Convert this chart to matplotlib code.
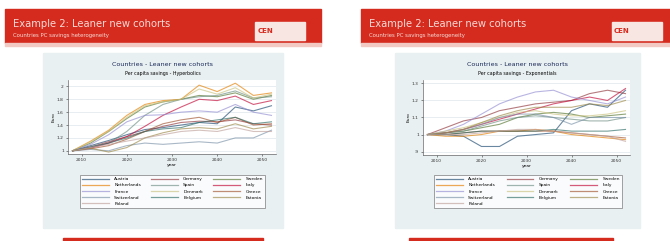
import numpy as np
import matplotlib.pyplot as plt
from matplotlib.patches import Rectangle
from matplotlib.lines import Line2D

W, H = 670, 241

years = [2008, 2012, 2016, 2020, 2024, 2028, 2032, 2036, 2040, 2044, 2048, 2052]
countries = ['Austria', 'Germany', 'Sweden', 'Netherlands', 'Spain', 'Italy', 'France',
             'Denmark', 'Greece', 'Switzerland', 'Belgium', 'Estonia', 'Poland']

# left slide: hyperbolics
hyp = {
    'Austria':     [1.0, 1.08, 1.16, 1.25, 1.33, 1.36, 1.40, 1.44, 1.42, 1.68, 1.62, 1.70],
    'Germany':     [1.0, 1.06, 1.14, 1.22, 1.30, 1.38, 1.44, 1.46, 1.45, 1.48, 1.42, 1.40],
    'Sweden':      [1.0, 1.12, 1.30, 1.50, 1.68, 1.76, 1.80, 1.86, 1.84, 1.90, 1.80, 1.86],
    'Netherlands': [1.0, 1.15, 1.32, 1.55, 1.72, 1.78, 1.80, 2.02, 1.92, 2.05, 1.86, 1.90],
    'Spain':       [1.0, 1.05, 1.12, 1.30, 1.55, 1.72, 1.80, 1.84, 1.86, 1.93, 1.82, 1.84],
    'Italy':       [1.0, 1.04, 1.12, 1.22, 1.38, 1.55, 1.68, 1.80, 1.78, 1.85, 1.72, 1.78],
    'France':      [1.0, 1.10, 1.25, 1.45, 1.55, 1.56, 1.60, 1.62, 1.60, 1.72, 1.60, 1.55],
    'Denmark':     [1.0, 1.14, 1.30, 1.52, 1.70, 1.76, 1.80, 1.96, 1.88, 1.98, 1.82, 1.88],
    'Greece':      [1.0, 1.03, 1.08, 1.18, 1.30, 1.42, 1.48, 1.52, 1.44, 1.52, 1.40, 1.42],
    'Switzerland': [1.0, 1.02, 1.00, 1.08, 1.12, 1.10, 1.12, 1.14, 1.12, 1.20, 1.20, 1.32],
    'Belgium':     [1.0, 1.06, 1.12, 1.20, 1.30, 1.34, 1.36, 1.44, 1.48, 1.52, 1.42, 1.45],
    'Estonia':     [1.0, 1.04, 0.98, 1.05, 1.20, 1.28, 1.34, 1.36, 1.34, 1.42, 1.34, 1.38],
    'Poland':      [1.0, 1.05, 1.10, 1.15, 1.20, 1.25, 1.30, 1.32, 1.30, 1.36, 1.30, 1.30],
}

# right slide: exponentials
expo = {
    'Austria':     [1.0, 1.00, 0.99, 0.93, 0.93, 0.99, 1.00, 1.01, 1.14, 1.18, 1.16, 1.26],
    'Germany':     [1.0, 1.04, 1.08, 1.10, 1.14, 1.16, 1.18, 1.19, 1.20, 1.24, 1.26, 1.24],
    'Sweden':      [1.0, 1.01, 1.02, 1.04, 1.06, 1.10, 1.12, 1.13, 1.12, 1.10, 1.11, 1.12],
    'Netherlands': [1.0, 0.99, 0.99, 1.00, 1.02, 1.02, 1.03, 1.02, 1.00, 0.99, 0.98, 0.97],
    'Spain':       [1.0, 1.01, 1.02, 1.05, 1.08, 1.10, 1.11, 1.10, 1.09, 1.08, 1.08, 1.10],
    'Italy':       [1.0, 1.01, 1.03, 1.06, 1.09, 1.12, 1.15, 1.18, 1.20, 1.22, 1.20, 1.27],
    'France':      [1.0, 1.02, 1.06, 1.12, 1.18, 1.22, 1.25, 1.26, 1.22, 1.20, 1.18, 1.22],
    'Denmark':     [1.0, 1.02, 1.04, 1.07, 1.10, 1.13, 1.14, 1.12, 1.11, 1.11, 1.12, 1.14],
    'Greece':      [1.0, 1.00, 1.01, 1.02, 1.02, 1.02, 1.02, 1.02, 1.01, 1.00, 0.99, 0.98],
    'Switzerland': [1.0, 1.01, 1.03, 1.06, 1.10, 1.12, 1.12, 1.10, 1.06, 1.10, 1.10, 1.10],
    'Belgium':     [1.0, 1.00, 1.01, 1.02, 1.02, 1.02, 1.02, 1.03, 1.02, 1.02, 1.02, 1.03],
    'Estonia':     [1.0, 1.01, 1.03, 1.07, 1.11, 1.14, 1.16, 1.16, 1.16, 1.18, 1.17, 1.20],
    'Poland':      [1.0, 1.00, 1.00, 1.01, 1.02, 1.03, 1.03, 1.02, 1.01, 1.00, 0.99, 0.96],
}

xticks = [2010, 2020, 2030, 2040, 2050]
yticks_hyp = [1.0, 1.2, 1.4, 1.6, 1.8, 2.0]
yticks_exp = [0.9, 1.0, 1.1, 1.2, 1.3]

# stata s2color, a bit washed out
colors = ['#1a476f', '#90353b', '#55752f', '#e37e00', '#6e8e84', '#c10534', '#938dd2',
          '#cac27e', '#a0522d', '#7b92a8', '#2d6d66', '#9c8847', '#bfa19c']

RED = '#d52b1e'
PANEL = '#e9f0f2'


def box(x, y, w, h):
    # pixel box (top-left origin) -> figure fraction
    return [x / W, 1 - (y + h) / H, w / W, h / H]


def rect(fig, x, y, w, h, color):
    fig.patches.append(Rectangle((x / W, 1 - (y + h) / H), w / W, h / H,
                                 transform=fig.transFigure, color=color, zorder=-5))


def slide(fig, x0, x1, panel, plot, leg, bar, subtitle, data, yticks, ylim):
    # header
    rect(fig, x0, 9, x1 - x0, 34, RED)
    rect(fig, x0, 43, x1 - x0, 3, '#f3c9c4')
    fig.text((x0 + 8) / W, 1 - 27 / H, 'Example 2: Leaner new cohorts', color='#f6d9d5',
             fontsize=7.2, va='baseline')
    fig.text((x0 + 8) / W, 1 - 37 / H, 'Countries PC savings heterogeneity', color='#f6d9d5',
             fontsize=3.9, va='baseline')
    # logo
    lx = x1 - 66 if x1 < 400 else x1 - 58
    rect(fig, lx, 22, 50, 18, '#f8e6e3')
    fig.text((lx + 10) / W, 1 - 31 / H, 'CEN', color=RED, fontsize=5, fontweight='bold',
             ha='center', va='center')

    # graph region
    px, py, pw, ph = panel
    rect(fig, px, py, pw, ph, PANEL)
    cx = px + pw / 2
    fig.text(cx / W, 1 - 65 / H, 'Countries - Leaner new cohorts', color='#1a2a5a',
             fontsize=4.6, ha='center', va='center')
    fig.text(cx / W, 1 - 74 / H, subtitle, color='black', fontsize=3.4,
             ha='center', va='center')

    ax = fig.add_axes(box(*plot))
    ax.set_facecolor('white')
    for i, c in enumerate(countries):
        ax.plot(years, data[c], color=colors[i], lw=0.8, alpha=0.65, label=c)
    ax.set_xlim(2007, 2053)
    ax.set_ylim(*ylim)
    ax.set_xticks(xticks)
    ax.set_yticks(yticks)
    ax.set_yticklabels([('%g' % t).lstrip('0') for t in yticks])
    ax.grid(axis='y', color='#dde6ea', lw=0.5)
    ax.set_axisbelow(True)
    for s in ['top', 'right']:
        ax.spines[s].set_visible(False)
    for s in ['left', 'bottom']:
        ax.spines[s].set_color('#666666')
        ax.spines[s].set_linewidth(0.5)
    ax.tick_params(labelsize=3.2, length=1.5, width=0.4, pad=1.5, colors='#333333')
    ax.set_xlabel('year', fontsize=3.2, labelpad=0.5)
    ax.set_ylabel('Euro', fontsize=3.2, labelpad=1)

    # legend, row-wise like stata
    order = ['Austria', 'Netherlands', 'France', 'Switzerland', 'Poland',
             'Germany', 'Spain', 'Denmark', 'Belgium',
             'Sweden', 'Italy', 'Greece', 'Estonia']
    hs = [Line2D([], [], color=colors[countries.index(c)], lw=0.9, alpha=0.65) for c in order]
    bx, by, bw, bh = leg
    lg = ax.legend(hs, order, ncol=3, loc='upper left',
                   bbox_to_anchor=(bx / W, 1 - (by + bh) / H, bw / W, bh / H),
                   bbox_transform=fig.transFigure, mode='expand', fontsize=3.2,
                   frameon=True, fancybox=False, edgecolor='#777777', handlelength=6,
                   handletextpad=1.2, labelspacing=0.45, borderpad=0.5, columnspacing=1,
                   borderaxespad=0)
    lg.get_frame().set_linewidth(0.6)
    lg.get_frame().set_facecolor('white')

    # bottom bar
    bx0, bx1 = bar
    rect(fig, bx0, 238, bx1 - bx0, 3, RED)


fig = plt.figure(figsize=(W / 100, H / 100), dpi=100)
fig.patch.set_facecolor('white')

slide(fig, 5, 321, (43, 53, 240, 175), (68, 80, 208, 74), (80, 175, 185, 42), (63, 263),
      'Per capita savings - Hyperbolics', hyp, yticks_hyp, (0.95, 2.1))
slide(fig, 361, 670, (395, 53, 245, 175), (423, 80, 207, 75), (434, 175, 188, 42), (409, 613),
      'Per capita savings - Exponentials', expo, yticks_exp, (0.88, 1.32))

fig.savefig('out.png', dpi=100)
